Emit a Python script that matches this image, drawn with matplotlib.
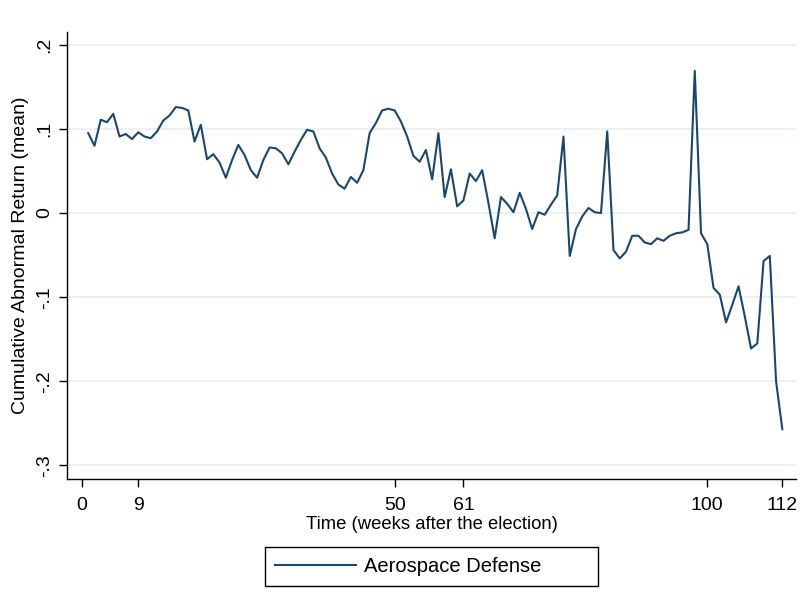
import numpy as np
import matplotlib
matplotlib.use("Agg")
import matplotlib.pyplot as plt

plt.rcParams['font.family'] = ['Liberation Sans', 'DejaVu Sans']

# weeks after the election
weeks = list(range(1, 113))

# cumulative abnormal return (mean), Aerospace Defense
car = [
    0.095, 0.080, 0.111, 0.108, 0.118, 0.091, 0.094, 0.088, 0.096, 0.091,
    0.089, 0.097, 0.110, 0.116, 0.126, 0.125, 0.122, 0.085, 0.105, 0.064,
    0.070, 0.060, 0.042, 0.063, 0.081, 0.069, 0.051, 0.042, 0.063, 0.078,
    0.077, 0.071, 0.058, 0.073, 0.087, 0.099, 0.097, 0.077, 0.066, 0.047,
    0.034, 0.029, 0.043, 0.036, 0.051, 0.095, 0.107, 0.122, 0.124, 0.122,
    0.109, 0.091, 0.068, 0.061, 0.075, 0.040, 0.095, 0.019, 0.052, 0.008,
    0.015, 0.047, 0.038, 0.051, 0.012, -0.030, 0.019, 0.011, 0.001, 0.024,
    0.005, -0.019, 0.001, -0.002, 0.010, 0.021, 0.091, -0.051, -0.019, -0.004,
    0.006, 0.001, 0.000, 0.097, -0.044, -0.054, -0.046, -0.027, -0.027, -0.035,
    -0.037, -0.030, -0.033, -0.027, -0.024, -0.023, -0.020, 0.169, -0.024, -0.037,
    -0.089, -0.097, -0.130, -0.109, -0.087, -0.123, -0.161, -0.155, -0.057, -0.051,
    -0.200, -0.257,
]

x_ticks = [0, 9, 50, 61, 100, 112]
y_ticks = [0.2, 0.1, 0.0, -0.1, -0.2, -0.3]
y_tick_labels = ['.2', '.1', '0', '-.1', '-.2', '-.3']

fig = plt.figure(figsize=(8.11, 6.13), dpi=100)
ax = fig.add_axes([0.0826, 0.218, 0.899, 0.730])

ax.plot(weeks, car, color='#1a476f', linewidth=1.5, label='Aerospace Defense')

ax.set_xlim(-2.4, 114.2)
ax.set_ylim(-0.3166, 0.2154)

ax.set_xticks(x_ticks)
ax.set_xticklabels([str(t) for t in x_ticks])
ax.set_yticks(y_ticks)
ax.set_yticklabels(y_tick_labels, rotation=90, va='center')

ax.tick_params(axis='both', direction='out', length=6, width=1, colors='black',
               labelsize=14, pad=4)
ax.tick_params(axis='x', pad=7)
ax.grid(axis='y', color='#e8eff1', linewidth=1.2)
ax.set_axisbelow(True)

for side in ['top', 'right']:
    ax.spines[side].set_visible(False)
for side in ['left', 'bottom']:
    ax.spines[side].set_linewidth(1)
    ax.spines[side].set_color('black')

ax.set_xlabel('Time (weeks after the election)', fontsize=13.3, labelpad=1)
ax.set_ylabel('Cumulative Abnormal Return (mean)', fontsize=14, labelpad=5)

# legend box stretched to the width of the Stata legend
leg = fig.legend(loc='lower left', bbox_to_anchor=(0.3268, 0.044, 0.4106, 0.065),
                 mode='expand', fontsize=14.5, handlelength=4.0,
                 fancybox=False, framealpha=1, edgecolor='black',
                 borderpad=0.5, handletextpad=0.4, borderaxespad=0)
leg.get_frame().set_linewidth(1)

fig.savefig('out.png', dpi=100, facecolor='white')
